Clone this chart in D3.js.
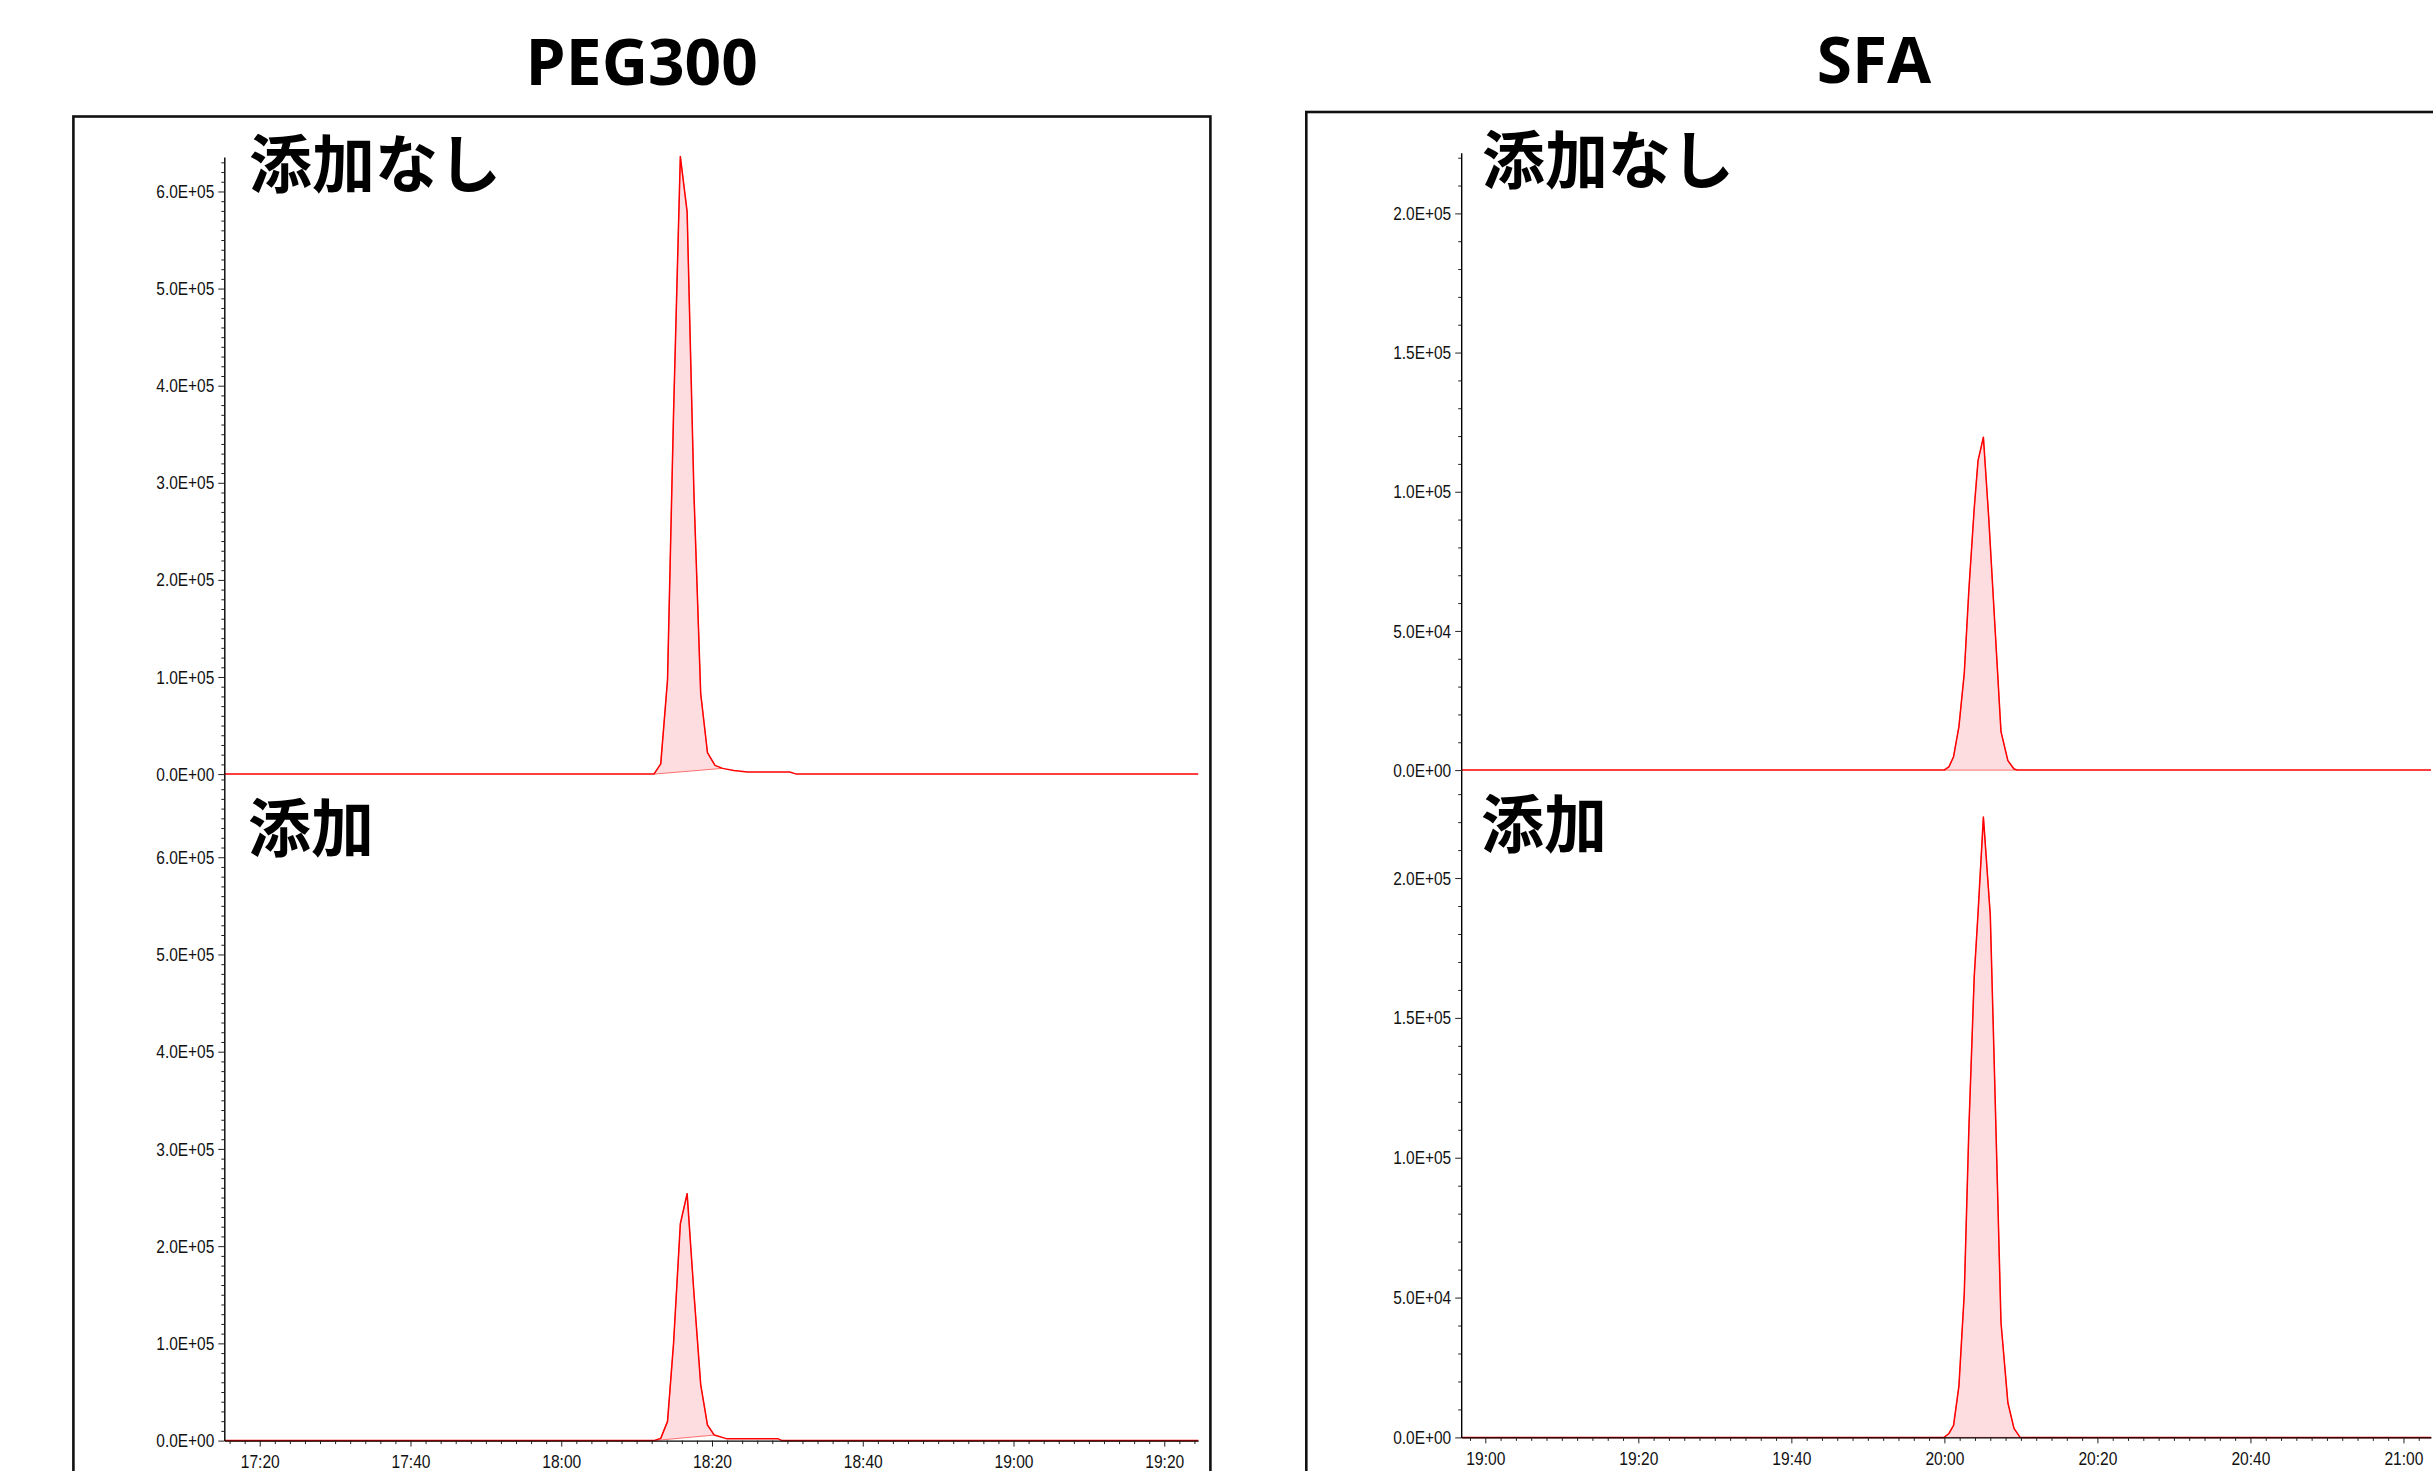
<!DOCTYPE html>
<html><head><meta charset="utf-8">
<script src="https://cdn.jsdelivr.net/npm/d3@7"></script>
<style>body{margin:0;background:#fff;overflow:hidden}</style>
</head><body>
<svg id="chart" width="2433" height="1471" xmlns="http://www.w3.org/2000/svg"></svg>
<script>
// ---------------- DATA ----------------
const panelTitles = ["PEG300", "SFA"];
const traceLabels = ["添加なし", "添加"];

// PEG300 — retention time in seconds (mm:ss), intensity
const pegTopTime  = [1035.3, 1092.3, 1093.2, 1094.1, 1094.9, 1095.8, 1096.7, 1097.6, 1098.5, 1099.4, 1100.4, 1101.4, 1102.9, 1104.7, 1110.3, 1111.2, 1164.5];
const pegTopValue = [0, 0, 10500, 97000, 372000, 636000, 579000, 290000, 83000, 22000, 9000, 5900, 3600, 2200, 2200, 0, 0];
const pegTopFill  = [1092.3, 1101.4];

const pegBotTime  = [1035.3, 1092.3, 1093.2, 1094.1, 1094.9, 1095.8, 1096.7, 1097.6, 1098.5, 1099.4, 1100.3, 1102.0, 1108.8, 1109.3, 1164.5];
const pegBotValue = [0, 0, 2300, 19800, 100000, 223000, 254000, 152000, 57600, 16000, 5700, 1800, 1800, 0, 0];
const pegBotFill  = [1092.3, 1100.3];

// SFA
const sfaTopTime  = [1136.9, 1199.96, 1200.6, 1201.2, 1201.9, 1202.6, 1203.2, 1203.9, 1204.4, 1205.1, 1205.8, 1206.6, 1207.4, 1208.3, 1209.1, 1209.6, 1263.6];
const sfaTopValue = [0, 0, 1200, 4800, 15600, 34800, 64700, 94000, 111200, 119600, 90500, 52100, 13800, 3400, 400, 0, 0];
const sfaTopFill  = [1199.96, 1209.6];

const sfaBotTime  = [1136.9, 1199.96, 1200.6, 1201.2, 1201.9, 1202.6, 1203.2, 1203.9, 1204.4, 1205.1, 1206.0, 1206.6, 1207.4, 1208.3, 1209.1, 1209.9, 1263.6];
const sfaBotValue = [0, 0, 1400, 4300, 18300, 51400, 110300, 164700, 187500, 221800, 186800, 125000, 41100, 12400, 3200, 0, 0];
const sfaBotFill  = [1199.96, 1209.9];

// tick values and labels
const pegYTicks  = [0, 100000, 200000, 300000, 400000, 500000, 600000];
const pegYLabels = ["0.0E+00", "1.0E+05", "2.0E+05", "3.0E+05", "4.0E+05", "5.0E+05", "6.0E+05"];
const sfaYTicks  = [0, 50000, 100000, 150000, 200000];
const sfaYLabels = ["0.0E+00", "5.0E+04", "1.0E+05", "1.5E+05", "2.0E+05"];
const pegXTicks  = [1040, 1060, 1080, 1100, 1120, 1140, 1160];
const pegXLabels = ["17:20", "17:40", "18:00", "18:20", "18:40", "19:00", "19:20"];
const sfaXTicks  = [1140, 1160, 1180, 1200, 1220, 1240, 1260];
const sfaXLabels = ["19:00", "19:20", "19:40", "20:00", "20:20", "20:40", "21:00"];

// ---------------- LAYOUT ----------------
const svg = d3.select("#chart");
const LINE = "#ff0000", FILL = "#fddde0";
const tickFont = "'Liberation Sans', Arial, sans-serif";

const panels = [
  {
    title: panelTitles[0], titleX: 641.7, titleY: 85,
    frame: {x: 73.4, y: 116.5, w: 1137, h: 1420},
    xDomain: [1035.3, 1164.5], xRange: [224.3, 1198.2],
    xTicks: pegXTicks, xLabels: pegXLabels,
    yTicks: pegYTicks, yLabels: pegYLabels, minorStep: 10000,
    traces: [
      {time: pegTopTime, value: pegTopValue, fill: pegTopFill, yDomain: [0, 635500], yRange: [774.1, 157],
       label: traceLabels[0], lx: 249, ly: 187},
      {time: pegBotTime, value: pegBotValue, fill: pegBotFill, yDomain: [0, 685500], yRange: [1440.6, 774.1],
       label: traceLabels[1], lx: 248, ly: 851}
    ]
  },
  {
    title: panelTitles[1], titleX: 1874, titleY: 83,
    frame: {x: 1306.3, y: 112, w: 1300, h: 1420},
    xDomain: [1136.85, 1263.6], xRange: [1461.2, 2431],
    xTicks: sfaXTicks, xLabels: sfaXLabels,
    yTicks: sfaYTicks, yLabels: sfaYLabels, minorStep: 10000,
    traces: [
      {time: sfaTopTime, value: sfaTopValue, fill: sfaTopFill, yDomain: [0, 221800], yRange: [770.1, 152.7],
       label: traceLabels[0], lx: 1482, ly: 183},
      {time: sfaBotTime, value: sfaBotValue, fill: sfaBotFill, yDomain: [0, 238600], yRange: [1437.4, 770.1],
       label: traceLabels[1], lx: 1481, ly: 847}
    ]
  }
];

panels.forEach(p => {
  // frame
  svg.append("rect")
    .attr("x", p.frame.x).attr("y", p.frame.y)
    .attr("width", p.frame.w).attr("height", p.frame.h)
    .attr("fill", "none").attr("stroke", "#111").attr("stroke-width", 2.6);

  // title
  svg.append("text")
    .attr("x", p.titleX).attr("y", p.titleY)
    .attr("text-anchor", "middle")
    .attr("font-family", "'Open Sans', 'Noto Sans', sans-serif")
    .attr("font-weight", 700).attr("font-size", 64)
    .text(p.title);

  const x = d3.scaleLinear().domain(p.xDomain).range(p.xRange);

  p.traces.forEach((tr, ti) => {
    const y = d3.scaleLinear().domain(tr.yDomain).range(tr.yRange);
    const pts = tr.time.map((t, i) => [t, tr.value[i]]);
    const line = d3.line().x(d => x(d[0])).y(d => y(d[1]));

    // integrated peak fill (closed by straight baseline)
    const inWin = pts.filter(d => d[0] >= tr.fill[0] - 1e-6 && d[0] <= tr.fill[1] + 1e-6);
    svg.append("path")
      .attr("d", line(inWin) + "Z")
      .attr("fill", FILL)
      .attr("stroke", "#ff7070").attr("stroke-width", 1);

    // trace
    svg.append("path")
      .attr("d", line(pts))
      .attr("fill", "none")
      .attr("stroke", LINE).attr("stroke-width", 1.5)
      .attr("stroke-linejoin", "round");

    // y axis minor ticks
    const minor = d3.range(0, tr.yDomain[1], p.minorStep).filter(v => !p.yTicks.includes(v));
    svg.append("g").attr("transform", `translate(${p.xRange[0]},0)`)
      .call(d3.axisLeft(y).tickValues(minor).tickSize(3).tickSizeOuter(0).tickFormat(""))
      .call(g => g.selectAll("line").attr("stroke", "#222"))
      .call(g => g.select(".domain").attr("stroke", "#000").attr("stroke-width", 1.4));

    // y axis major ticks + labels
    svg.append("g").attr("transform", `translate(${p.xRange[0]},0)`)
      .call(d3.axisLeft(y).tickValues(p.yTicks).tickSize(6).tickSizeOuter(0).tickPadding(4)
        .tickFormat((d, i) => p.yLabels[i]))
      .call(g => g.select(".domain").remove())
      .call(g => g.selectAll("line").attr("stroke", "#222"))
      .call(g => g.selectAll("text")
        .attr("font-family", tickFont).attr("font-size", 19).attr("fill", "#111")
        .attr("textLength", 58).attr("lengthAdjust", "spacingAndGlyphs"));

    // bottom x axis for the lower trace
    if (ti === 1) {
      const base = tr.yRange[0];
      const xMinor = d3.range(Math.ceil(p.xDomain[0] / 2) * 2, p.xDomain[1], 2).filter(v => !p.xTicks.includes(v));
      svg.append("g").attr("transform", `translate(0,${base})`)
        .call(d3.axisBottom(x).tickValues(xMinor).tickSize(3.5).tickSizeOuter(0).tickFormat(""))
        .call(g => g.selectAll("line").attr("stroke", "#222"))
        .call(g => g.select(".domain").attr("stroke", "#000").attr("stroke-width", 1.4));
      svg.append("g").attr("transform", `translate(0,${base})`)
        .call(d3.axisBottom(x).tickValues(p.xTicks).tickSize(6).tickSizeOuter(0).tickPadding(8)
          .tickFormat((d, i) => p.xLabels[i]))
        .call(g => g.select(".domain").remove())
        .call(g => g.selectAll("line").attr("stroke", "#222"))
        .call(g => g.selectAll("text")
          .attr("font-family", tickFont).attr("font-size", 19).attr("fill", "#111")
          .attr("textLength", 39).attr("lengthAdjust", "spacingAndGlyphs"));
    }

    // trace label
    svg.append("text")
      .attr("x", tr.lx).attr("y", tr.ly)
      .attr("font-family", "'Noto Sans CJK JP', sans-serif")
      .attr("font-weight", 700).attr("font-size", 63)
      .attr("fill", "#000")
      .text(tr.label);
  });
});
</script>
</body></html>
